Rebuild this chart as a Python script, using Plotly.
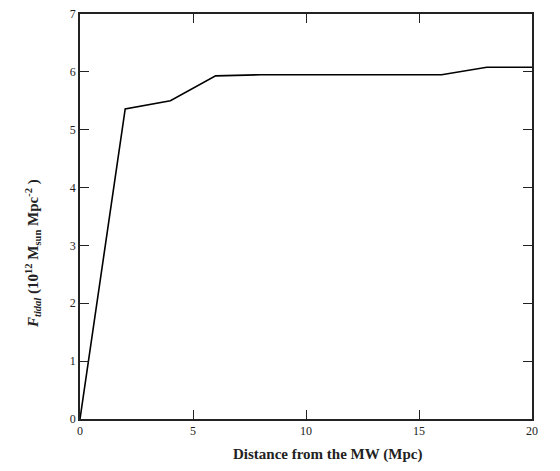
import plotly.graph_objects as go

distance_mpc = [0, 2, 4, 6, 8, 10, 12, 14, 16, 18, 20]
f_tidal = [0, 5.36, 5.50, 5.93, 5.95, 5.95, 5.95, 5.95, 5.95, 6.08, 6.08]

x_ticks = [0, 5, 10, 15, 20]
y_ticks = [0, 1, 2, 3, 4, 5, 6, 7]

x_title = "<b>Distance from the MW (Mpc)</b>"
y_title = "<b><i>F<sub>tidal</sub></i> (10<sup>12</sup> M<sub>sun</sub> Mpc<sup>-2</sup> )</b>"

serif = "Liberation Serif, Times New Roman, serif"

fig = go.Figure()
fig.add_trace(go.Scatter(x=distance_mpc, y=f_tidal, mode="lines",
                         line=dict(color="black", width=1.6), showlegend=False))

font = dict(family=serif, color="#222", size=12)
axis_common = dict(showgrid=False, zeroline=False, showline=True, linecolor="#222",
                   linewidth=1.8, mirror="allticks", ticks="inside", ticklen=9,
                   tickwidth=1.3, tickcolor="#222", tickfont=font, automargin=False,
                   ticklabeloverflow="allow")

fig.update_layout(
    width=552, height=463,
    margin=dict(l=72, r=28, t=6, b=52),
    paper_bgcolor="white", plot_bgcolor="white",
    font=font,
    xaxis=dict(range=[0, 20], tickvals=x_ticks, **axis_common),
    yaxis=dict(range=[0, 7], tickvals=y_ticks, **axis_common),
    annotations=[
        dict(text=x_title, xref="paper", yref="paper", x=(327 - 80) / 452, y=-(453 - 417) / 405,
             xanchor="center", yanchor="middle", showarrow=False,
             font=dict(family=serif, size=15, color="#222")),
        dict(text=y_title, xref="paper", yref="paper", x=-(80 - 33) / 452, y=(417 - 252) / 405,
             xanchor="center", yanchor="middle", showarrow=False, textangle=-90,
             font=dict(family=serif, size=15, color="#222")),
    ],
)

fig.write_html("out.html")
